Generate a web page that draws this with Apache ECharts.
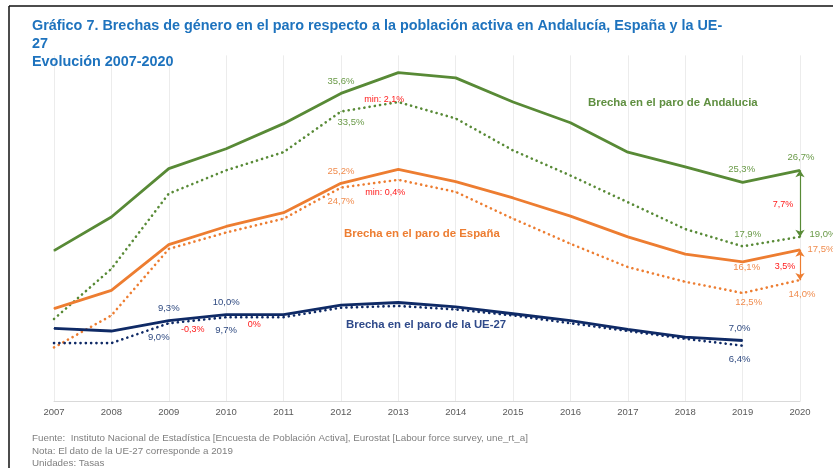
<!DOCTYPE html>
<html>
<head>
<meta charset="utf-8">
<script src="https://cdn.jsdelivr.net/npm/echarts@6/dist/echarts.min.js"></script>
<style>
  html, body { margin: 0; padding: 0; background: #fff; }
  #chart { width: 833px; height: 468px; }
</style>
</head>
<body>
<div id="chart"></div>
<script>
// datos
const years = ['2007', '2008', '2009', '2010', '2011', '2012', '2013', '2014', '2015', '2016', '2017', '2018', '2019', '2020'];
const andaluciaParo = [17.4, 21.3, 26.9, 29.2, 32.1, 35.6, 38.0, 37.4, 34.6, 32.2, 28.8, 27.1, 25.3, 26.7];
const andaluciaActiva = [9.5, 15.3, 24.0, 26.7, 28.8, 33.5, 34.6, 32.7, 29.0, 26.1, 23.0, 19.9, 17.9, 19.0];
const espanaParo = [10.7, 12.8, 18.1, 20.2, 21.8, 25.2, 26.8, 25.4, 23.5, 21.4, 19.0, 17.0, 16.1, 17.5];
const espanaActiva = [6.2, 9.9, 17.6, 19.5, 21.1, 24.7, 25.6, 24.2, 21.1, 18.2, 15.5, 13.8, 12.5, 14.0];
const ueParo = [8.4, 8.1, 9.3, 10.0, 10.0, 11.1, 11.4, 10.9, 10.1, 9.3, 8.3, 7.4, 7.0, null];
const ueActiva = [6.7, 6.7, 9.0, 9.7, 9.7, 10.8, 11.0, 10.6, 9.9, 9.0, 8.1, 7.2, 6.4, null];

const GREEN = '#588a36'
const GREEN_TXT = '#6a9a48'
const ORANGE = '#ed7d31'
const ORANGE_TXT = '#f08c4e'
const NAVY = '#0f2a66'
const NAVY_TXT = '#2f4a80'
const RED = '#ff1a1a'
const FONT = '"Liberation Sans", Arial, sans-serif'

// desplazamiento de las etiquetas (indice -> [dx, dy])
const labelSpots = {
  andaluciaParo: { 5: [0, -12], 12: [-1, -13], 13: [1, -13] },
  andaluciaActiva: { 5: [10, 11], 12: [5, -12], 13: [23, -2] },
  espanaParo: { 5: [0, -12], 12: [4, 5], 13: [21, 0] },
  espanaActiva: { 5: [0, 14], 12: [6, 9], 13: [2, 14] },
  ueParo: { 2: [0, -12], 3: [0, -12], 12: [-3, -12] },
  ueActiva: { 2: [-10, 14], 3: [0, 13], 12: [-3, 14] }
}

const fmt = v => v.toFixed(1).replace('.', ',') + '%'

function withLabels(values, spots) {
  return values.map((v, i) => spots[i] ? { value: v, label: { show: true, offset: spots[i] }} : v)
}

// anotaciones en rojo
function note(x, y, text, offset) {
  return {
    coord: [x, y],
    symbol: 'circle',
    symbolSize: 1,
    itemStyle: { color: 'rgba(0,0,0,0)' },
    label: { show: true, position: 'inside', formatter: text, offset: offset, color: RED, fontSize: 9, fontFamily: FONT }
  }
}

function lineSeries(name, values, color, txtColor, dotted, spots) {
  return {
    name: name,
    type: 'line',
    data: withLabels(values, spots),
    symbol: 'circle',
    symbolSize: 1,
    showAllSymbol: true,
    silent: true,
    z: dotted ? 2 : 3,
    itemStyle: { color: color },
    lineStyle: dotted
      ? { color: color, width: 2.6, type: [0.1, 5.2], cap: 'round' }
      : { color: color, width: 2.8 },
    label: {
      show: false,
      position: 'inside',
      color: txtColor,
      fontSize: 9.5,
      fontFamily: FONT,
      formatter: p => fmt(p.value)
    },
    emphasis: { disabled: true }
  }
}

const chart = echarts.init(document.getElementById('chart'))

const sAndParo = lineSeries('andaluciaParo', andaluciaParo, GREEN, GREEN_TXT, false, labelSpots.andaluciaParo)
sAndParo.markLine = {
  silent: true,
  symbol: ['arrow', 'arrow'],
  symbolSize: 7,
  label: { show: false },
  lineStyle: { color: GREEN, width: 1.2, type: 'solid' },
  data: [[{ coord: ['2020', andaluciaParo[13]] }, { coord: ['2020', andaluciaActiva[13]] }]]
}
sAndParo.markPoint = {
  silent: true,
  data: [note('2020', andaluciaParo[13], '7,7%', [-17, 34])]
}

const sAndActiva = lineSeries('andaluciaActiva', andaluciaActiva, GREEN, GREEN_TXT, true, labelSpots.andaluciaActiva)
sAndActiva.markPoint = {
  silent: true,
  data: [note('2013', andaluciaActiva[6], 'min: 2,1%', [-14, -3])]
}

const sEspParo = lineSeries('espanaParo', espanaParo, ORANGE, ORANGE_TXT, false, labelSpots.espanaParo)
sEspParo.markLine = {
  silent: true,
  symbol: ['arrow', 'arrow'],
  symbolSize: 7,
  label: { show: false },
  lineStyle: { color: ORANGE, width: 1.2, type: 'solid' },
  data: [[{ coord: ['2020', espanaParo[13]] }, { coord: ['2020', espanaActiva[13]] }]]
}
sEspParo.markPoint = {
  silent: true,
  data: [note('2020', espanaParo[13], '3,5%', [-15, 17])]
}

const sEspActiva = lineSeries('espanaActiva', espanaActiva, ORANGE, ORANGE_TXT, true, labelSpots.espanaActiva)
sEspActiva.markPoint = {
  silent: true,
  data: [note('2013', espanaActiva[6], 'min: 0,4%', [-13, 13])]
}

const sUeParo = lineSeries('ueParo', ueParo, NAVY, NAVY_TXT, false, labelSpots.ueParo)
const sUeActiva = lineSeries('ueActiva', ueActiva, NAVY, NAVY_TXT, true, labelSpots.ueActiva)
sUeActiva.markPoint = {
  silent: true,
  data: [
    note('2009', ueActiva[2], '-0,3%', [24, 6]),
    note('2010', ueActiva[3], '0%', [28, 7])
  ]
}

chart.setOption({
  backgroundColor: '#fff',
  animation: false,
  title: {
    text: 'Gráfico 7. Brechas de género en el paro respecto a la población activa en Andalucía, España y la UE-\n27\nEvolución 2007-2020',
    left: 27,
    top: 12,
    textStyle: { color: '#1e73be', fontSize: 14.4, fontWeight: 'bold', fontFamily: FONT, lineHeight: 18 }
  },
  grid: { left: 54, right: 33, top: 55.4, bottom: 67 },
  xAxis: {
    type: 'category',
    data: years,
    boundaryGap: false,
    axisLine: { lineStyle: { color: '#d9d9d9' }},
    axisTick: { show: false },
    axisLabel: { color: '#595959', fontSize: 9.5, fontFamily: FONT, margin: 6 },
    splitLine: { show: true, lineStyle: { color: '#ececec' }}
  },
  yAxis: {
    type: 'value',
    min: 0,
    max: 40,
    show: false
  },
  series: [sAndActiva, sAndParo, sEspActiva, sEspParo, sUeActiva, sUeParo],
  graphic: [
    // marco
    { type: 'line', shape: { x1: 9, y1: 6, x2: 833, y2: 6 }, style: { stroke: '#111', lineWidth: 1.5 }},
    { type: 'line', shape: { x1: 9, y1: 6, x2: 9, y2: 468 }, style: { stroke: '#111', lineWidth: 1.5 }},
    // nombres de las series
    { type: 'text', left: 588, top: 97, z: 10, style: { text: 'Brecha en el paro de Andalucia', fill: '#5f8f40', font: 'bold 11.4px ' + FONT }},
    { type: 'text', left: 344, top: 228, z: 10, style: { text: 'Brecha en el paro de España', fill: ORANGE, font: 'bold 11.4px ' + FONT }},
    { type: 'text', left: 346, top: 319, z: 10, style: { text: 'Brecha en el paro de la UE-27', fill: '#2f4a8a', font: 'bold 11.4px ' + FONT }},
    // notas
    { type: 'text', left: 32, top: 433, style: { text: 'Fuente:  Instituto Nacional de Estadística [Encuesta de Población Activa], Eurostat [Labour force survey, une_rt_a]', fill: '#7f7f7f', font: '9.8px ' + FONT }},
    { type: 'text', left: 32, top: 446, style: { text: 'Nota: El dato de la UE-27 corresponde a 2019', fill: '#7f7f7f', font: '9.8px ' + FONT }},
    { type: 'text', left: 32, top: 458, style: { text: 'Unidades: Tasas', fill: '#7f7f7f', font: '9.8px ' + FONT }}
  ]
})
</script>
</body>
</html>
